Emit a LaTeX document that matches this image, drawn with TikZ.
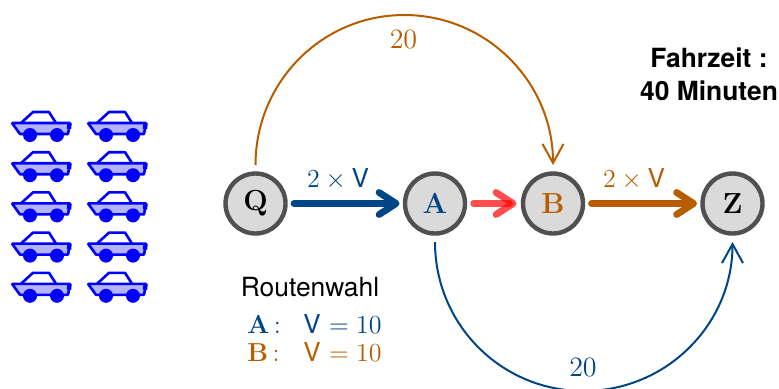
\RequirePackage{fix-cm}
\documentclass[tikz,border=0pt]{standalone}
\usepackage{fontspec}
\setsansfont{TeX Gyre Heros}
\usetikzlibrary{arrows.meta}
\definecolor{rblue}{HTML}{004586}
\definecolor{rorange}{HTML}{B85C00}
\definecolor{rgreyf}{HTML}{DADADA}
\definecolor{rgreyd}{HTML}{505050}
\definecolor{carfill}{HTML}{B3B3FF}
\tikzset{
  x=0.5pt,y=0.5pt,
  stop/.style={circle,draw=rgreyd,fill=rgreyf,line width=2.2pt,minimum size=30pt,inner sep=0pt,outer sep=4.25pt,font=\fontsize{14.5}{17}\selectfont\bfseries},
  thinarrow/.style={line width=1pt,-{Straight Barb[length=9.5pt,width=10.5pt,line width=1pt]}},
  thickarrow/.style={line width=3.4pt,line cap=round,-{Straight Barb[round,length=8.5pt,width=11pt,line width=3.4pt]}},
  lab/.style={inner sep=0pt,font=\fontsize{13}{16}\selectfont},
  numlab/.style={inner sep=0pt,font=\fontsize{14}{16}\selectfont},
  sanslab/.style={inner sep=0pt,font=\fontsize{13.2}{16}\selectfont\sffamily},
  car/.pic={
    \draw[blue,line width=1.3pt,line join=round] (21,0) -- (33,11) -- (49,11) -- (56,0);
    \draw[blue,fill=carfill,line width=1.3pt,line join=bevel] (12,0) -- (70,0) -- (68,-11) -- (20,-11) -- cycle;
    \draw[blue,line width=2.2pt] (69.5,0) -- (69,-6);
    \fill[blue] (30,-12) circle[radius=7] (57,-12) circle[radius=7];
  }
}
\begin{document}
\begin{tikzpicture}
\useasboundingbox (0,0) rectangle (779,388);
\clip (0,0) rectangle (779,388);
\foreach \r in {0,...,4}{
  \pic at (0,{265-40.2*\r}) {car};
  \pic at (76,{265-40.2*\r}) {car};
}
\node[stop] (Q) at (255.5,184.5) {Q};
\node[stop,text=rblue] (A) at (435,184.5) {A};
\node[stop,text=rorange] (B) at (553,184.5) {B};
\node[stop] (Z) at (732.5,184.5) {Z};
\coordinate (top) at (404.25,373);
\coordinate (bot) at (583.75,-3);
\draw[thinarrow,rorange] (Q.north) to[out=90,in=180] (top) to[out=0,in=90] (B.north);
\draw[thinarrow,rblue] (A.south) to[out=-90,in=180] (bot) to[out=0,in=-90] (Z.south);
\draw[thickarrow,rblue,shorten >=-1.5pt] (Q) -- (A);
\draw[thickarrow,rorange,shorten >=-1.5pt] (B) -- (Z);
\draw[thickarrow,red,opacity=0.7,line width=3.2pt,shorten >=-1pt] (A) -- (B);
\node[lab,text=rblue] (la) at (338,208.5) {$2\times\textsf{V}$};
\node[lab,text=rorange] (lb) at (634,208.5) {$2\times\textsf{V}$};
\node[numlab,text=rorange] (t1) at (403.5,349) {$20$};
\node[numlab,text=rblue] (t2) at (583,21) {$20$};
\node[sanslab] (rw) at (310,101) {Routenwahl};
\node[lab,anchor=base west,text=rblue] (a1) at (247,55) {\textbf{A}$\,$:};
\node[lab,anchor=base west,text=rblue] (a2) at (303,55) {\textsf{V} $=10$};
\node[lab,anchor=base west,text=rorange] (b1) at (247,27) {\textbf{B}$\,$:};
\node[lab,anchor=base west,text=rorange] (b2) at (303,27) {\textsf{V} $=10$};
\node[sanslab,align=center,font=\fontsize{13.2}{16.5}\selectfont\sffamily\bfseries] (fz) at (709,314) {Fahrzeit :\\40 Minuten};
\end{tikzpicture}
\end{document}
